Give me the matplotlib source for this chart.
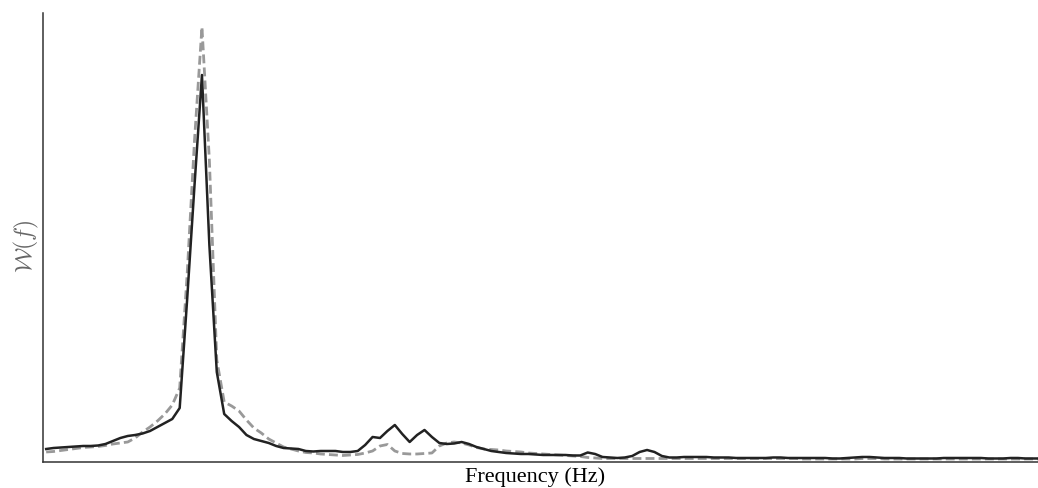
import numpy as np
import matplotlib
matplotlib.use('Agg')
import matplotlib.pyplot as plt

# spectrum values (arbitrary units, one value per frequency bin)
W_solid = [13, 14, 14.5, 15, 15.5, 16, 16, 16.5, 18, 21,
           24, 26, 27, 28.5, 31, 35, 39, 43, 54, 162,
           277, 387, 217, 90, 48, 41, 35, 27, 23, 21,
           19, 16, 14, 13.5, 13, 11, 10.5, 11, 11, 11,
           10, 10, 11, 17, 25, 24, 31, 37, 28, 20,
           27, 32, 25, 19, 18, 18.5, 20, 18, 15, 13,
           11, 10, 9, 8.5, 8, 8, 7.5, 7, 7, 7,
           7, 6.5, 6.5, 9.5, 8, 5, 4.5, 4, 4.5, 6,
           10, 12, 10, 6, 4.5, 4.5, 5, 5, 5, 5,
           4.5, 4.5, 4.5, 4, 4, 4, 4, 4, 4.5, 4.5,
           4, 4, 4, 4, 4, 4, 3.5, 3.5, 4, 4.5,
           5, 5, 4.5, 4, 4, 4, 3.5, 3.5, 3.5, 3.5,
           3.5, 4, 4, 4, 4, 4, 4, 3.5, 3.5, 3.5,
           4, 4, 3.5, 3.5, 3.5]

W_dashed = [10, 10.5, 11.5, 12.5, 13.5, 14.5, 15, 15.5, 16.5, 18,
            19, 20, 24, 30, 35, 41, 48, 57, 74, 187,
            322, 435, 302, 102, 60, 56, 51, 42, 34, 29,
            23, 19, 15, 13, 11, 9.5, 9, 8, 7.5, 7,
            6.5, 7, 7.5, 9, 11, 16, 17.5, 11, 8.5, 8,
            8, 8.5, 9, 16, 19, 20, 19, 17, 14.5, 13,
            12.5, 12, 11, 10.5, 10, 9, 8.5, 8, 7.5, 7,
            6.5, 6, 5.5, 4.5, 4, 3.5, 3.5, 3.5, 3.5, 3.5,
            3.5, 3.5, 3.5, 3.5, 3.5, 3.5, 3.5, 3.5, 3.5, 3.5,
            3.5, 3.5, 3.5, 3.5, 3.5, 3.5, 3.5, 3.5, 3.5, 3.5,
            3.5, 3.5, 3, 3, 3, 3, 3, 3, 3, 3,
            3.5, 3.5, 3.5, 3, 3, 3, 3, 3, 3, 3,
            3, 3, 3, 3, 3, 3, 3, 3, 3, 3,
            3, 3, 3, 3, 3]

freq = np.arange(len(W_solid))

plt.rcParams['mathtext.fontset'] = 'cm'

fig = plt.figure(figsize=(10.38, 4.88), dpi=100)
ax = fig.add_axes([0.0414, 0.0533, 0.9586, 0.9201])

plt.plot(freq, W_dashed, c="#999999", lw=2.0, ls=(0, (3.2, 1.5)))
plt.plot(freq, W_solid, c="#222222", lw=1.8)

plt.xlim(-0.43, 133.7)
plt.ylim(0, 449)

plt.xlabel("Frequency (Hz)", fontsize=16, family='Liberation Serif')
plt.ylabel(r"$\mathcal{W}(f)$", fontsize=17, color="#666666")
ax.xaxis.set_label_coords(0.495, -0.012, transform=ax.transAxes)
ax.xaxis.label.set_va('top')
ax.yaxis.set_label_coords(-0.017, 0.479, transform=ax.transAxes)
ax.yaxis.label.set_va('center')

ax.set_xticks([])
ax.set_yticks([])
ax.spines['top'].set_visible(False)
ax.spines['right'].set_visible(False)
ax.spines['left'].set_color('#333333')
ax.spines['bottom'].set_color('#333333')
ax.spines['left'].set_linewidth(1.1)
ax.spines['bottom'].set_linewidth(1.1)

plt.savefig('out.png', dpi=100)
